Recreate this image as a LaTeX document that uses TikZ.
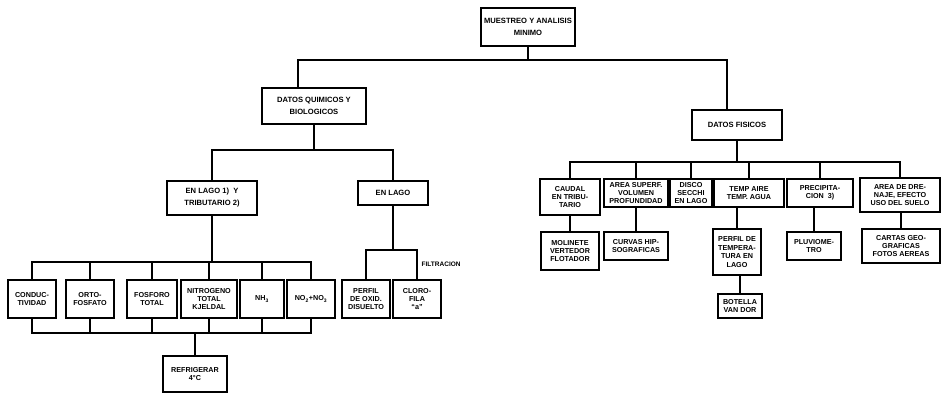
\documentclass[tikz,border=0pt]{standalone}
\usepackage{fontspec}
\setmainfont{Liberation Sans}
\begin{document}
\begin{tikzpicture}[x=1pt,y=-1pt,
  bx/.style={draw,line width=2pt,inner sep=0.5pt,align=center,
    font=\bfseries\fontsize{7.2}{8.4}\selectfont},
  bigbx/.style={bx,font=\bfseries\fontsize{7.6}{12}\selectfont},
  ln/.style={line width=2pt},
  lbl/.style={font=\bfseries\fontsize{6.5}{7.5}\selectfont,inner sep=0.5pt}]
\useasboundingbox (0,0) rectangle (944,398);
% level 0
\node[bigbx,minimum width=94pt,minimum height=38pt] (top) at (528,27) {MUESTREO Y ANALISIS\\MINIMO};
% level 1
\node[bigbx,minimum width=104pt,minimum height=36pt] (DQ) at (314,106) {DATOS QUIMICOS Y\\BIOLOGICOS};
\node[bigbx,minimum width=90pt,minimum height=30pt] (DF) at (737,125) {DATOS FISICOS};
% level 2 left
\node[bigbx,minimum width=90pt,minimum height=34pt] (EL1) at (212,198) {EN LAGO 1)\ \ Y\\TRIBUTARIO 2)};
\node[bigbx,minimum width=70pt,minimum height=24pt] (EL) at (393,193) {EN LAGO};
% level 3 left
\node[bx,minimum width=48pt,minimum height=38pt] (COND) at (32,299) {CONDUC-\\TIVIDAD};
\node[bx,minimum width=48pt,minimum height=38pt] (ORTO) at (90,299) {ORTO-\\FOSFATO};
\node[bx,minimum width=50pt,minimum height=38pt] (FOSF) at (152,299) {FOSFORO\\TOTAL};
\node[bx,minimum width=56pt,minimum height=38pt] (NITR) at (209,299) {NITROGENO\\TOTAL\\KJELDAL};
\node[bx,minimum width=44pt,minimum height=38pt] (NH) at (262,299) {NH\textsubscript{3}};
\node[bx,minimum width=48pt,minimum height=38pt] (NO) at (311,299) {NO\textsubscript{2}+NO\textsubscript{3}};
\node[bx,minimum width=48pt,minimum height=38pt] (PERF) at (366,299) {PERFIL\\DE OXID.\\DISUELTO};
\node[bx,minimum width=48pt,minimum height=38pt] (CLOR) at (417,299) {CLORO-\\FILA\\``a''};
\node[bx,minimum width=64pt,minimum height=36pt] (REFR) at (195,374) {REFRIGERAR\\4°C};
\node[lbl,anchor=west] (FIL) at (421,264) {FILTRACION};
% level 2 right
\node[bx,minimum width=60pt,minimum height=36pt] (CAUD) at (570,197) {CAUDAL\\EN TRIBU-\\TARIO};
\node[bx,minimum width=64pt,minimum height=28pt] (AREA) at (636,193) {AREA SUPERF.\\VOLUMEN\\PROFUNDIDAD};
\node[bx,minimum width=42pt,minimum height=28pt] (DISCO) at (691,193) {DISCO\\SECCHI\\EN LAGO};
\node[bx,minimum width=70pt,minimum height=28pt] (TEMP) at (749,193) {TEMP AIRE\\TEMP. AGUA};
\node[bx,minimum width=66pt,minimum height=28pt] (PREC) at (820,193) {PRECIPITA-\\CION\ \ 3)};
\node[bx,minimum width=80pt,minimum height=34pt] (ADR) at (900,195) {AREA DE DRE-\\NAJE, EFECTO\\USO DEL SUELO};
% level 3 right
\node[bx,minimum width=58pt,minimum height=38pt] (MOL) at (570,251) {MOLINETE\\VERTEDOR\\FLOTADOR};
\node[bx,minimum width=64pt,minimum height=28pt] (CURV) at (636,246) {CURVAS HIP-\\SOGRAFICAS};
\node[bx,minimum width=48pt,minimum height=46pt] (PTEMP) at (737,252) {PERFIL DE\\TEMPERA-\\TURA EN\\LAGO};
\node[bx,minimum width=44pt,minimum height=24pt] (BOT) at (740,306) {BOTELLA\\VAN DOR};
\node[bx,minimum width=54pt,minimum height=28pt] (PLUV) at (814,246) {PLUVIOME-\\TRO};
\node[bx,minimum width=78pt,minimum height=34pt] (CART) at (901,246) {CARTAS GEO-\\GRAFICAS\\FOTOS AEREAS};
% bus coordinates
\coordinate (b0L) at (298,60);
\coordinate (b0R) at (727,60);
\coordinate (b1) at (0,150);
\coordinate (b2) at (0,262);
\coordinate (b3) at (0,333);
\coordinate (b4) at (0,250);
\coordinate (b5) at (0,162);
% connectors
\draw[ln] (top.south) -- (top.south |- b0L);
\draw[ln] (DQ.north -| b0L) -- (b0L) -- (b0R) -- (DF.north -| b0R);
\draw[ln] (DQ.south) -- (DQ.south |- b1);
\draw[ln] (EL1.north) |- (EL.north |- b1) -- (EL.north);
\draw[ln] (EL1.south) -- (EL1.south |- b2);
\draw[ln] (COND.north) |- (NO.north |- b2) -- (NO.north);
\foreach \n in {ORTO,FOSF,NITR,NH} \draw[ln] (\n.north) -- (\n.north |- b2);
\draw[ln] (COND.south) |- (NO.south |- b3) -- (NO.south);
\foreach \n in {ORTO,FOSF,NITR,NH} \draw[ln] (\n.south) -- (\n.south |- b3);
\draw[ln] (REFR.north) -- (REFR.north |- b3);
\draw[ln] (EL.south) -- (EL.south |- b4);
\draw[ln] (PERF.north) |- (CLOR.north |- b4) -- (CLOR.north);
\draw[ln] (DF.south) -- (DF.south |- b5);
\draw[ln] (CAUD.north) |- (ADR.north |- b5) -- (ADR.north);
\foreach \n in {AREA,DISCO,TEMP,PREC} \draw[ln] (\n.north) -- (\n.north |- b5);
\draw[ln] (MOL.north) -- (MOL.north |- CAUD.south);
\draw[ln] (CURV.north) -- (CURV.north |- AREA.south);
\draw[ln] (PTEMP.north) -- (PTEMP.north |- TEMP.south);
\draw[ln] (BOT.north) -- (BOT.north |- PTEMP.south);
\draw[ln] (PLUV.north) -- (PLUV.north |- PREC.south);
\draw[ln] (CART.north) -- (CART.north |- ADR.south);
\end{tikzpicture}
\end{document}
